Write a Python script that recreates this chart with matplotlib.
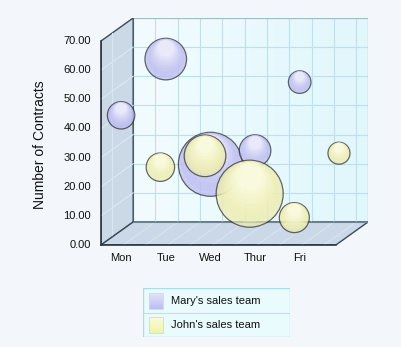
import matplotlib
matplotlib.use('Agg')
import matplotlib.pyplot as plt
import numpy as np
from matplotlib.patches import Polygon, Rectangle
from matplotlib.colors import LinearSegmentedColormap

plt.rcParams['font.family'] = ['Liberation Sans', 'DejaVu Sans']

# data
days = ['Mon', 'Tue', 'Wed', 'Thur', 'Fri']
mary_x = [0, 1, 2, 3, 4]
mary_y = [44.5, 63.8, 27.7, 32.4, 55.9]
mary_size = [13.7, 20.8, 32.0, 15.8, 11.3]
john_x = [1, 2, 3, 4, 5]
john_y = [26.7, 30.6, 17.6, 9.4, 31.5]
john_size = [14.2, 20.8, 33.5, 15.0, 11.0]
yticks = [0, 10, 20, 30, 40, 50, 60, 70]

# box geometry (data units)
x0, x1 = -0.45, 4.81
ymax = 70
ddx, ddy = 0.72, 7.9

fig = plt.figure(figsize=(4.02, 3.47), dpi=100)
fig.patch.set_facecolor('#F3F7FB')
ax = fig.add_axes([101/402, 1-245/347, 267/402, 227/347])
ax.set_xlim(x0, x1 + ddx)
ax.set_ylim(0, ymax + ddy)
ax.axis('off')

# back wall with gradient
grad = np.linspace(0, 1, 256).reshape(1, -1)
wallcm = LinearSegmentedColormap.from_list('wall', ['#F2FCFF', '#E0F7FC'])
ax.imshow(grad, cmap=wallcm, aspect='auto', zorder=0,
          extent=[x0+ddx, x1+ddx, ddy, ymax+ddy])
for v in np.arange(x0+ddx+0.5, x1+ddx, 0.5):
    ax.plot([v, v], [ddy, ymax+ddy], color='#BEDFEE', lw=0.8, zorder=1)
for t in yticks[1:-1]:
    ax.plot([x0+ddx, x1+ddx], [t+ddy, t+ddy], color='#BEDFEE', lw=0.8, zorder=1)
ax.add_patch(Rectangle((x0+ddx, ddy), x1-x0, ymax, fill=False, ec='#9DBFCB', lw=0.9, zorder=1))

# side wall
ax.add_patch(Polygon([(x0, 0), (x0, ymax), (x0+ddx, ymax+ddy), (x0+ddx, ddy)],
                     closed=True, fc='#CBD9E7', ec='#3A4A5A', lw=1.0, zorder=2))
for t in yticks[1:-1]:
    ax.plot([x0, x0+ddx], [t, t+ddy], color='#DCE8F2', lw=0.8, zorder=2)
ax.plot([x0+0.25, x0+0.25], [ddy*0.35, ymax+ddy*0.35], color='#D8E6F2', lw=0.8, zorder=2)

# floor
ax.add_patch(Polygon([(x0, 0), (x1, 0), (x1+ddx, ddy), (x0+ddx, ddy)],
                     closed=True, fc='#CAD8E7', ec='#3A4A5A', lw=1.0, zorder=2))
for v in np.arange(x0+0.5, x1, 0.5):
    ax.plot([v, v+ddx], [0, ddy], color='#D9E5F0', lw=0.7, zorder=2)
ax.plot([x0+ddx, x1+ddx], [ddy, ddy], color='#6F8496', lw=0.8, zorder=2)
ax.plot([x0, x0], [0, ymax], color='#2A3440', lw=1.2, zorder=3, clip_on=False)
ax.plot([x0, x1], [0, 0], color='#2A3440', lw=1.2, zorder=3, clip_on=False)


def bubbles(xs, ys, rs, dark, light, off, z):
    xs = np.array(xs, float) + off
    ys = np.array(ys, float)
    rs = np.array(rs, float)
    s = (1.44 * rs) ** 2
    ax.scatter(xs, ys, s=s, c=dark, edgecolors='#222222', linewidths=0.9, alpha=0.68, zorder=z)
    cols = LinearSegmentedColormap.from_list('b', [dark, light])
    for i, f in enumerate(np.linspace(0.92, 0.4, 8)):
        # lighter toward the top of the bubble
        sy = ys + (1-f) * rs * 0.85 / 2.914
        ax.scatter(xs, sy, s=s*f*f, c=[cols((i+1)/8)], edgecolors='none', alpha=0.42, zorder=z)


bubbles(mary_x, mary_y, mary_size, '#B8B8EF', '#F4F4FD', 0.0, 5)
bubbles(john_x, john_y, john_size, '#ECECAC', '#FDFDE8', -0.12, 6)

# ticks
for t in yticks:
    ax.text(x0 - 0.22, t, '%.2f' % t, ha='right', va='center', fontsize=8, color='#111111', clip_on=False)
for i, d in enumerate(days):
    ax.text(i, -4.5, d, ha='center', va='center', fontsize=8, color='#111111', clip_on=False)
fig.text(40/402, 1-145/347, 'Number of Contracts', rotation=90, ha='center', va='center',
         fontsize=10, color='#111111')

# legend
lax = fig.add_axes([143/402, 1-337/347, 147/402, 49/347])
lax.add_patch(Rectangle((0, 0), 147, 49, fc='#EAFBFD', ec='#A9DDE8', lw=1.0))
lax.plot([0, 147], [24.5, 24.5], color='#B9E3EC', lw=0.8)
lax.imshow(np.linspace(1, 0, 64).reshape(-1, 1), cmap=LinearSegmentedColormap.from_list('m', ['#BDBDF2', '#E4E4FA']),
           extent=[6, 20, 28, 44], aspect='auto', zorder=2)
lax.imshow(np.linspace(1, 0, 64).reshape(-1, 1), cmap=LinearSegmentedColormap.from_list('j', ['#F2F2AE', '#FBFBD8']),
           extent=[6, 20, 4, 20], aspect='auto', zorder=2)
lax.add_patch(Rectangle((6, 28), 14, 16, fill=False, ec='#C4DDEA', lw=0.6, zorder=3))
lax.add_patch(Rectangle((6, 4), 14, 16, fill=False, ec='#C4DDEA', lw=0.6, zorder=3))
lax.set_xlim(0, 147)
lax.set_ylim(0, 49)
lax.axis('off')
lax.text(28, 36, "Mary's sales team", va='center', fontsize=8, color='#111111')
lax.text(28, 12, "John's sales team", va='center', fontsize=8, color='#111111')

fig.savefig('out.png', dpi=100, facecolor=fig.get_facecolor())
